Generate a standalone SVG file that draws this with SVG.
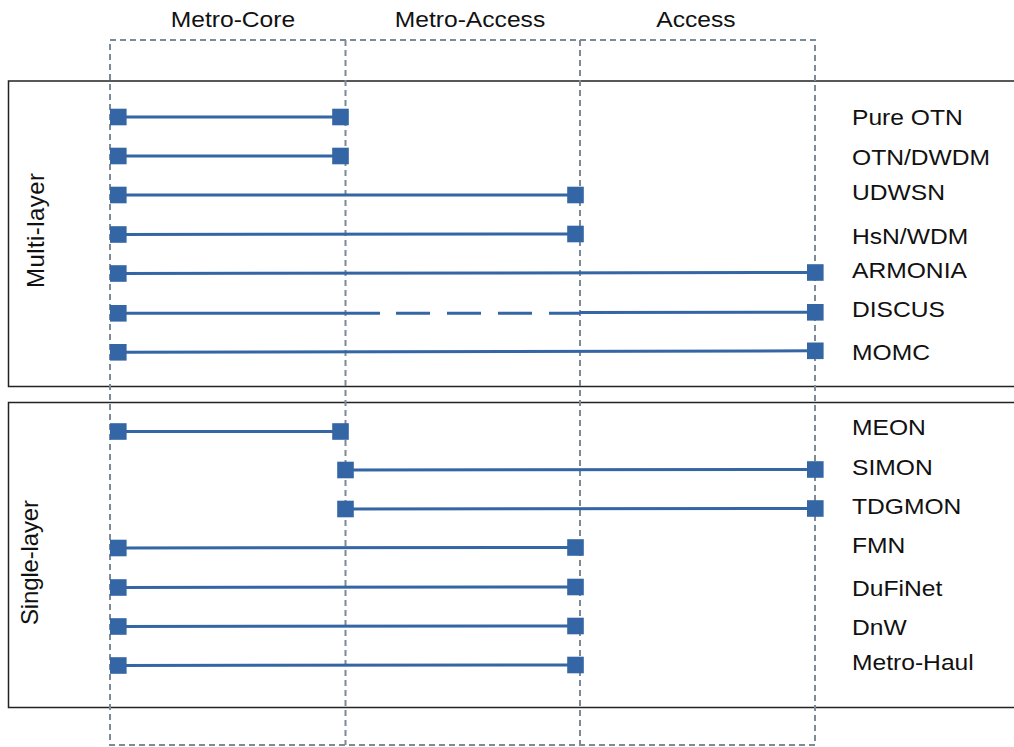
<svg xmlns="http://www.w3.org/2000/svg" width="1014" height="747" viewBox="0 0 1014 747">
<style>
.box{fill:none;stroke:#222;stroke-width:1.5}
.grid{fill:none;stroke:#7d8a98;stroke-width:2;stroke-dasharray:6 4}
.ln{stroke:#3465a4;stroke-width:3;fill:none}
.sq{fill:#3465a4}
.t{font-family:"Liberation Sans",Arial,sans-serif;font-size:22px;fill:#111}
.r{font-family:"Liberation Sans",Arial,sans-serif;font-size:24px;fill:#111}
</style>
<defs>
<rect id="s" x="-8.3" y="-8.3" width="16.6" height="16.6" class="sq"/>
</defs>
<rect width="1014" height="747" fill="#fff"/>
<g id="panels">
<rect class="box" x="8.5" y="81" width="1010" height="305.5"/>
<rect class="box" x="8.5" y="402.5" width="1010" height="305"/>
</g>
<g id="grid">
<rect class="grid" x="110" y="40" width="705" height="705"/>
<line class="grid" x1="345.5" y1="40" x2="345.5" y2="745"/>
<line class="grid" x1="580" y1="40" x2="580" y2="745"/>
</g>
<g id="headers" transform="scale(1.12 1)">
<text class="t" x="208" y="27.5" text-anchor="middle">Metro-Core</text>
<text class="t" x="419.6" y="27.5" text-anchor="middle">Metro-Access</text>
<text class="t" x="621.4" y="27.5" text-anchor="middle">Access</text>
</g>
<g id="side-labels">
<text class="r" transform="translate(44 230.5) rotate(-90)" text-anchor="middle" textLength="115">Multi-layer</text>
<text class="r" transform="translate(38 562.5) rotate(-90)" text-anchor="middle" textLength="125">Single-layer</text>
</g>
<g id="connectors">
<line class="ln" x1="118" y1="117" x2="340.5" y2="117"/>
<line class="ln" x1="118" y1="156" x2="340.5" y2="156"/>
<line class="ln" x1="118" y1="195" x2="575.5" y2="195"/>
<line class="ln" x1="118" y1="234.5" x2="575.5" y2="234"/>
<line class="ln" x1="118" y1="273.5" x2="815.3" y2="272.5"/>
<line class="ln" x1="118" y1="313.3" x2="380" y2="313.3"/>
<line class="ln" x1="396" y1="313.3" x2="580" y2="313.3" stroke-dasharray="34 17"/>
<line class="ln" x1="580" y1="312.5" x2="815.3" y2="312.3"/>
<line class="ln" x1="118" y1="352.3" x2="815.3" y2="350.8"/>
<line class="ln" x1="118" y1="431.5" x2="340.5" y2="431.5"/>
<line class="ln" x1="345.5" y1="470" x2="815.3" y2="469.5"/>
<line class="ln" x1="345.5" y1="509" x2="815.3" y2="508.5"/>
<line class="ln" x1="118" y1="548" x2="575.5" y2="547.5"/>
<line class="ln" x1="118" y1="587.5" x2="575.5" y2="587"/>
<line class="ln" x1="118" y1="626.5" x2="575.5" y2="626"/>
<line class="ln" x1="118" y1="665.5" x2="575.5" y2="665"/>
</g>
<g id="nodes">
<g id="pure-otn"><use href="#s" x="118.3" y="117"/><use href="#s" x="340.5" y="117"/></g>
<g id="otn-dwdm"><use href="#s" x="118.3" y="156"/><use href="#s" x="340.5" y="156"/></g>
<g id="udwsn"><use href="#s" x="118.3" y="195"/><use href="#s" x="575.5" y="195"/></g>
<g id="hsn-wdm"><use href="#s" x="118.3" y="234.5"/><use href="#s" x="575.5" y="234"/></g>
<g id="armonia"><use href="#s" x="118.3" y="273.5"/><use href="#s" x="815.3" y="272.5"/></g>
<g id="discus"><use href="#s" x="118.3" y="313.3"/><use href="#s" x="815.3" y="312.3"/></g>
<g id="momc"><use href="#s" x="118.3" y="352.3"/><use href="#s" x="815.3" y="350.8"/></g>
<g id="meon"><use href="#s" x="118.3" y="431.5"/><use href="#s" x="340.5" y="431.5"/></g>
<g id="simon"><use href="#s" x="345.5" y="470"/><use href="#s" x="815.3" y="469.5"/></g>
<g id="tdgmon"><use href="#s" x="345.5" y="509"/><use href="#s" x="815.3" y="508.5"/></g>
<g id="fmn"><use href="#s" x="118.3" y="548"/><use href="#s" x="575.5" y="547.5"/></g>
<g id="dufinet"><use href="#s" x="118.3" y="587.5"/><use href="#s" x="575.5" y="587"/></g>
<g id="dnw"><use href="#s" x="118.3" y="626.5"/><use href="#s" x="575.5" y="626"/></g>
<g id="metro-haul"><use href="#s" x="118.3" y="665.5"/><use href="#s" x="575.5" y="665"/></g>
</g>
<g id="labels" transform="scale(1.12 1)">
<text class="t" x="760.7" y="125">Pure OTN</text>
<text class="t" x="760.7" y="165">OTN/DWDM</text>
<text class="t" x="760.7" y="200">UDWSN</text>
<text class="t" x="760.7" y="244">HsN/WDM</text>
<text class="t" x="760.7" y="278.5">ARMONIA</text>
<text class="t" x="760.7" y="317.3">DISCUS</text>
<text class="t" x="760.7" y="360.5">MOMC</text>
<text class="t" x="760.7" y="435">MEON</text>
<text class="t" x="760.7" y="475">SIMON</text>
<text class="t" x="760.7" y="514">TDGMON</text>
<text class="t" x="760.7" y="553.3">FMN</text>
<text class="t" x="760.7" y="596">DuFiNet</text>
<text class="t" x="760.7" y="635">DnW</text>
<text class="t" x="760.7" y="670">Metro-Haul</text>
</g>
</svg>
